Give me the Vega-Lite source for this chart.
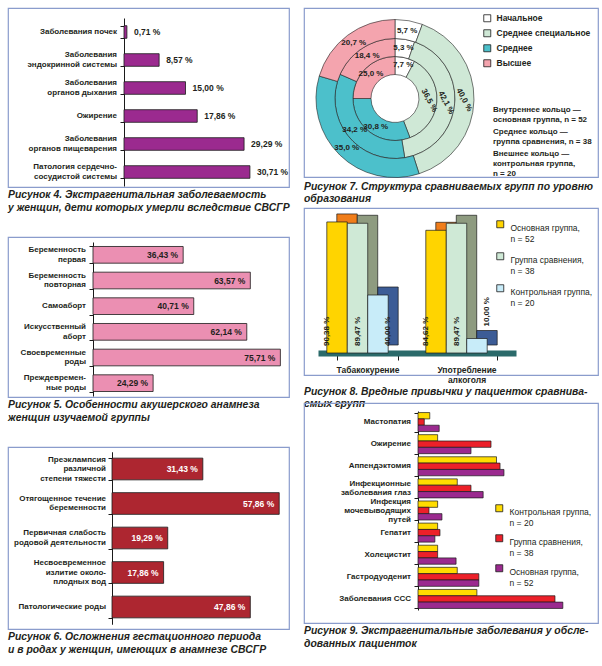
{
  "$schema": "https://vega.github.io/schema/vega-lite/v6.json",
  "background": "white",
  "padding": {"left": 7, "top": 7, "right": 5, "bottom": 4},
  "autosize": {"type": "pad"},
  "config": {
    "font": "Liberation Sans",
    "view": {"stroke": "#8a9ccc", "strokeWidth": 1.2},
    "title": {"font": "Liberation Sans", "fontSize": 10.4, "fontStyle": "italic", "fontWeight": "bold", "color": "#231f20", "orient": "bottom", "anchor": "start", "offset": 3, "lineHeight": 12.5},
    "axis": {"labelFont": "Liberation Sans", "labelColor": "#231f20", "labelFontWeight": "bold", "labelFontSize": 8.5, "domainColor": "#1a1a1a", "tickColor": "#1a1a1a"},
    "legend": {"labelFont": "Liberation Sans", "labelColor": "#231f20", "labelFontSize": 8.5, "labelLimit": 220},
    "text": {"font": "Liberation Sans", "color": "#231f20"}
  },
  "datasets": {
    "fig4": [
      {"cat": "Заболевания почек", "v": 0.71, "label": "0,71 %"},
      {"cat": "Заболевания|эндокринной системы", "v": 8.57, "label": "8,57 %"},
      {"cat": "Заболевания|органов дыхания", "v": 15.0, "label": "15,00 %"},
      {"cat": "Ожирение", "v": 17.86, "label": "17,86 %"},
      {"cat": "Заболевания|органов пищеварения", "v": 29.29, "label": "29,29 %"},
      {"cat": "Патология сердечно-|сосудистой системы", "v": 30.71, "label": "30,71 %"}
    ],
    "fig5": [
      {"cat": "Беременность|первая", "v": 36.43, "label": "36,43 %"},
      {"cat": "Беременность|повторная", "v": 63.57, "label": "63,57 %"},
      {"cat": "Самоаборт", "v": 40.71, "label": "40,71 %"},
      {"cat": "Искусственный|аборт", "v": 62.14, "label": "62,14 %"},
      {"cat": "Своевременные|роды", "v": 75.71, "label": "75,71 %"},
      {"cat": "Преждевремен-|ные роды", "v": 24.29, "label": "24,29 %"}
    ],
    "fig6": [
      {"cat": "Преэклампсия|различной|степени тяжести", "v": 31.43, "label": "31,43 %"},
      {"cat": "Отягощенное течение|беременности", "v": 57.86, "label": "57,86 %"},
      {"cat": "Первичная слабость|родовой деятельности", "v": 19.29, "label": "19,29 %"},
      {"cat": "Несвоевременное|излитие около-|плодных вод", "v": 17.86, "label": "17,86 %"},
      {"cat": "Патологические роды", "v": 47.86, "label": "47,86 %"}
    ],
    "fig7": [
      {"rn": 1, "ring": "Внутреннее кольцо —|основная группа, n = 52", "level": "Начальное", "ord": 1, "pct": 7.7, "label": "7,7 %"},
      {"rn": 1, "ring": "Внутреннее кольцо —|основная группа, n = 52", "level": "Среднее специальное", "ord": 2, "pct": 36.5, "label": "36,5 %"},
      {"rn": 1, "ring": "Внутреннее кольцо —|основная группа, n = 52", "level": "Среднее", "ord": 3, "pct": 30.8, "label": "30,8 %"},
      {"rn": 1, "ring": "Внутреннее кольцо —|основная группа, n = 52", "level": "Высшее", "ord": 4, "pct": 25.0, "label": "25,0 %"},
      {"rn": 2, "ring": "Среднее кольцо —|группа сравнения, n = 38", "level": "Начальное", "ord": 1, "pct": 5.3, "label": "5,3 %"},
      {"rn": 2, "ring": "Среднее кольцо —|группа сравнения, n = 38", "level": "Среднее специальное", "ord": 2, "pct": 42.1, "label": "42,1 %"},
      {"rn": 2, "ring": "Среднее кольцо —|группа сравнения, n = 38", "level": "Среднее", "ord": 3, "pct": 34.2, "label": "34,2 %"},
      {"rn": 2, "ring": "Среднее кольцо —|группа сравнения, n = 38", "level": "Высшее", "ord": 4, "pct": 18.4, "label": "18,4 %"},
      {"rn": 3, "ring": "Внешнее кольцо —|контрольная группа,|n = 20", "level": "Начальное", "ord": 1, "pct": 5.7, "label": "5,7 %"},
      {"rn": 3, "ring": "Внешнее кольцо —|контрольная группа,|n = 20", "level": "Среднее специальное", "ord": 2, "pct": 40.0, "label": "40,0 %"},
      {"rn": 3, "ring": "Внешнее кольцо —|контрольная группа,|n = 20", "level": "Среднее", "ord": 3, "pct": 35.0, "label": "35,0 %"},
      {"rn": 3, "ring": "Внешнее кольцо —|контрольная группа,|n = 20", "level": "Высшее", "ord": 4, "pct": 20.7, "label": "20,7 %"}
    ],
    "fig8": [
      {"habit": "Табакокурение", "group": "Основная группа,|n = 52", "v": 90.38, "label": "90,38 %"},
      {"habit": "Табакокурение", "group": "Группа сравнения,|n = 38", "v": 89.47, "label": "89,47 %"},
      {"habit": "Табакокурение", "group": "Контрольная группа,|n = 20", "v": 40.0, "label": "40,00 %"},
      {"habit": "Употребление|алкоголя", "group": "Основная группа,|n = 52", "v": 84.62, "label": "84,62 %"},
      {"habit": "Употребление|алкоголя", "group": "Группа сравнения,|n = 38", "v": 89.47, "label": "89,47 %"},
      {"habit": "Употребление|алкоголя", "group": "Контрольная группа,|n = 20", "v": 10.0, "label": "10,00 %"}
    ],
    "fig9": [
      {"dis": "Мастопатия", "group": "Контрольная группа,|n = 20", "v": 3.0},
      {"dis": "Мастопатия", "group": "Группа сравнения,|n = 38", "v": 1.6},
      {"dis": "Мастопатия", "group": "Основная группа,|n = 52", "v": 5.4},
      {"dis": "Ожирение", "group": "Контрольная группа,|n = 20", "v": 5.0},
      {"dis": "Ожирение", "group": "Группа сравнения,|n = 38", "v": 18.6},
      {"dis": "Ожирение", "group": "Основная группа,|n = 52", "v": 13.5},
      {"dis": "Аппендэктомия", "group": "Контрольная группа,|n = 20", "v": 20.0},
      {"dis": "Аппендэктомия", "group": "Группа сравнения,|n = 38", "v": 20.9},
      {"dis": "Аппендэктомия", "group": "Основная группа,|n = 52", "v": 21.9},
      {"dis": "Инфекционные|заболевания глаз", "group": "Контрольная группа,|n = 20", "v": 10.0},
      {"dis": "Инфекционные|заболевания глаз", "group": "Группа сравнения,|n = 38", "v": 13.5},
      {"dis": "Инфекционные|заболевания глаз", "group": "Основная группа,|n = 52", "v": 16.6},
      {"dis": "Инфекция|мочевыводящих|путей", "group": "Контрольная группа,|n = 20", "v": 5.0},
      {"dis": "Инфекция|мочевыводящих|путей", "group": "Группа сравнения,|n = 38", "v": 2.8},
      {"dis": "Инфекция|мочевыводящих|путей", "group": "Основная группа,|n = 52", "v": 6.1},
      {"dis": "Гепатит", "group": "Контрольная группа,|n = 20", "v": 5.0},
      {"dis": "Гепатит", "group": "Группа сравнения,|n = 38", "v": 5.6},
      {"dis": "Гепатит", "group": "Основная группа,|n = 52", "v": 4.3},
      {"dis": "Холецистит", "group": "Контрольная группа,|n = 20", "v": 5.0},
      {"dis": "Холецистит", "group": "Группа сравнения,|n = 38", "v": 5.0},
      {"dis": "Холецистит", "group": "Основная группа,|n = 52", "v": 9.7},
      {"dis": "Гастродуоденит", "group": "Контрольная группа,|n = 20", "v": 10.0},
      {"dis": "Гастродуоденит", "group": "Группа сравнения,|n = 38", "v": 15.5},
      {"dis": "Гастродуоденит", "group": "Основная группа,|n = 52", "v": 15.5},
      {"dis": "Заболевания ССС", "group": "Контрольная группа,|n = 20", "v": 15.0},
      {"dis": "Заболевания ССС", "group": "Группа сравнения,|n = 38", "v": 34.9},
      {"dis": "Заболевания ССС", "group": "Основная группа,|n = 52", "v": 36.9}
    ]
  },
  "spacing": 12,
  "resolve": {"scale": {"color": "independent", "fill": "independent", "stroke": "independent", "xOffset": "independent", "yOffset": "independent", "theta": "independent"}},
  "hconcat": [
    {
      "bounds": "flush",
      "spacing": 50,
      "resolve": {"scale": {"color": "independent", "fill": "independent", "stroke": "independent", "xOffset": "independent", "yOffset": "independent", "theta": "independent"}},
      "vconcat": [
        {
          "width": 281, "height": 179,
          "data": {"name": "fig4"},
          "title": {"text": ["Рисунок 4. Экстрагенитальная заболеваемость", "у женщин, дети которых умерли вследствие СВСГР"]},
          "encoding": {
            "y": {"field": "cat", "type": "nominal", "sort": null,
              "scale": {"range": [10, 178], "paddingInner": 0.55, "paddingOuter": 0.275},
              "axis": {"title": null, "offset": -116, "tickBand": "extent", "tickSize": 4, "labels": false}},
            "x": {"field": "v", "type": "quantitative", "scale": {"domain": [0, 40], "range": [116, 280], "nice": false}, "axis": null}
          },
          "layer": [
            {"mark": {"type": "bar", "fill": "#9b2a8f", "stroke": "#1a1a1a", "strokeWidth": 0.8}},
            {"mark": {"type": "text", "align": "left", "dx": 7, "fontWeight": "bold", "fontSize": 8.5}, "encoding": {"text": {"field": "label"}}},
            {"transform": [{"filter": "length(split(datum.cat, '|')) == 1"}],
             "mark": {"type": "text", "align": "right", "baseline": "middle", "dx": -7, "fontWeight": "bold", "fontSize": 8, "lineBreak": "|", "lineHeight": 9.5},
             "encoding": {"x": {"datum": 0, "type": "quantitative", "axis": null}, "text": {"field": "cat"}}},
            {"transform": [{"filter": "length(split(datum.cat, '|')) == 2"}],
             "mark": {"type": "text", "align": "right", "baseline": "middle", "dx": -7, "dy": -4.75, "fontWeight": "bold", "fontSize": 8, "lineBreak": "|", "lineHeight": 9.5},
             "encoding": {"x": {"datum": 0, "type": "quantitative", "axis": null}, "text": {"field": "cat"}}}
          ]
        },
        {
          "width": 281, "height": 160,
          "data": {"name": "fig5"},
          "title": {"text": ["Рисунок 5. Особенности акушерского анамнеза", "женщин изучаемой группы"]},
          "encoding": {
            "y": {"field": "cat", "type": "nominal", "sort": null,
              "scale": {"range": [5, 159], "paddingInner": 0.35, "paddingOuter": 0.175},
              "axis": {"title": null, "offset": -85, "tickBand": "extent", "tickSize": 4, "labels": false}},
            "x": {"field": "v", "type": "quantitative", "scale": {"domain": [0, 80], "range": [85, 283], "nice": false}, "axis": null}
          },
          "layer": [
            {"mark": {"type": "bar", "fill": "#eb8fb2", "stroke": "#1a1a1a", "strokeWidth": 0.8}},
            {"mark": {"type": "text", "align": "right", "dx": -5, "fontWeight": "bold", "fontSize": 8.5}, "encoding": {"text": {"field": "label"}}},
            {"transform": [{"filter": "length(split(datum.cat, '|')) == 1"}],
             "mark": {"type": "text", "align": "right", "baseline": "middle", "dx": -7, "fontWeight": "bold", "fontSize": 8, "lineBreak": "|", "lineHeight": 9.5},
             "encoding": {"x": {"datum": 0, "type": "quantitative", "axis": null}, "text": {"field": "cat"}}},
            {"transform": [{"filter": "length(split(datum.cat, '|')) == 2"}],
             "mark": {"type": "text", "align": "right", "baseline": "middle", "dx": -7, "dy": -4.75, "fontWeight": "bold", "fontSize": 8, "lineBreak": "|", "lineHeight": 9.5},
             "encoding": {"x": {"datum": 0, "type": "quantitative", "axis": null}, "text": {"field": "cat"}}}
          ]
        },
        {
          "width": 281, "height": 182,
          "data": {"name": "fig6"},
          "title": {"text": ["Рисунок 6. Осложнения гестационного периода", "и в родах у женщин, имеющих в анамнезе СВСГР"]},
          "encoding": {
            "y": {"field": "cat", "type": "nominal", "sort": null,
              "scale": {"range": [4.75, 177.25], "paddingInner": 0.37, "paddingOuter": 0.185},
              "axis": {"title": null, "offset": -104, "tickBand": "extent", "tickSize": 4, "labels": false}},
            "x": {"field": "v", "type": "quantitative", "scale": {"domain": [0, 60], "range": [104, 277.4], "nice": false}, "axis": null}
          },
          "layer": [
            {"mark": {"type": "bar", "fill": "#ad2630", "stroke": "#1a1a1a", "strokeWidth": 0.8}},
            {"mark": {"type": "text", "align": "right", "dx": -5, "fontWeight": "bold", "fontSize": 8.5, "color": "#ffffff"}, "encoding": {"text": {"field": "label"}}},
            {"transform": [{"filter": "length(split(datum.cat, '|')) == 1"}],
             "mark": {"type": "text", "align": "right", "baseline": "middle", "dx": -6, "fontWeight": "bold", "fontSize": 8, "lineBreak": "|", "lineHeight": 9.5},
             "encoding": {"x": {"datum": 0, "type": "quantitative", "axis": null}, "text": {"field": "cat"}}},
            {"transform": [{"filter": "length(split(datum.cat, '|')) == 2"}],
             "mark": {"type": "text", "align": "right", "baseline": "middle", "dx": -6, "dy": -4.75, "fontWeight": "bold", "fontSize": 8, "lineBreak": "|", "lineHeight": 9.5},
             "encoding": {"x": {"datum": 0, "type": "quantitative", "axis": null}, "text": {"field": "cat"}}},
            {"transform": [{"filter": "length(split(datum.cat, '|')) == 3"}],
             "mark": {"type": "text", "align": "right", "baseline": "middle", "dx": -6, "dy": -9.5, "fontWeight": "bold", "fontSize": 8, "lineBreak": "|", "lineHeight": 9.5},
             "encoding": {"x": {"datum": 0, "type": "quantitative", "axis": null}, "text": {"field": "cat"}}}
          ]
        }
      ]
    },
    {
      "spacing": 1,
      "resolve": {"scale": {"color": "independent", "fill": "independent", "stroke": "independent", "xOffset": "independent", "yOffset": "independent", "theta": "independent"}},
      "vconcat": [
        {
          "width": 294, "height": 169,
          "data": {"name": "fig7"},
          "title": {"text": ["Рисунок 7. Структура сравниваемых групп по уровню", "образования"]},
          "resolve": {"scale": {"theta": "independent"}},
          "encoding": {
            "x": {"datum": 0, "type": "quantitative", "scale": {"domain": [-91, 203], "nice": false, "zero": false}, "axis": null},
            "y": {"datum": 0, "type": "quantitative", "scale": {"domain": [-78.5, 90.5], "nice": false, "zero": false}, "axis": null},
            "theta": {"field": "pct", "type": "quantitative", "stack": true},
            "order": {"field": "ord", "type": "quantitative"}
          },
          "layer": [
            {
              "transform": [{"filter": "datum.rn == 1"}],
              "mark": {"type": "arc", "innerRadius": 24, "outerRadius": 42, "strokeWidth": 0.6},
              "encoding": {
                "color": {"field": "level", "type": "nominal", "sort": null,
                  "scale": {"domain": ["Начальное", "Среднее специальное", "Среднее", "Высшее"], "range": ["#ffffff", "#cfe8d6", "#4cc0cb", "#f4a4ae"]},
                  "legend": {"title": null, "orient": "none", "legendX": 179, "legendY": 6, "padding": 0, "symbolType": "square", "symbolSize": 49, "symbolStrokeColor": "#1a1a1a", "symbolStrokeWidth": 0.8, "labelFontWeight": "bold", "labelOffset": 5, "rowPadding": 4}},
                "stroke": {"field": "ring", "type": "nominal", "sort": null,
                  "scale": {"domain": ["Внутреннее кольцо —|основная группа, n = 52", "Среднее кольцо —|группа сравнения, n = 38", "Внешнее кольцо —|контрольная группа,|n = 20"], "range": ["#222222", "#222222", "#222222"]},
                  "legend": {"title": null, "orient": "none", "legendX": 181, "legendY": 94, "padding": 0, "symbolOpacity": 0, "symbolSize": 1, "symbolStrokeWidth": 0, "labelOffset": 0, "labelExpr": "split(datum.label, '|')", "labelBaseline": "top", "labelFontWeight": "bold", "labelFontSize": 8, "rowPadding": -4, "encode": {"labels": {"lineHeight": {"value": 9.3}}}}}
              }
            },
            {
              "transform": [{"filter": "datum.rn == 2"}],
              "mark": {"type": "arc", "innerRadius": 42, "outerRadius": 60, "strokeWidth": 0.6},
              "encoding": {
                "color": {"field": "level", "type": "nominal", "sort": null},
                "stroke": {"field": "ring", "type": "nominal", "sort": null}
              }
            },
            {
              "transform": [{"filter": "datum.rn == 3"}],
              "mark": {"type": "arc", "innerRadius": 60, "outerRadius": 79, "strokeWidth": 0.6},
              "encoding": {
                "color": {"field": "level", "type": "nominal", "sort": null},
                "stroke": {"field": "ring", "type": "nominal", "sort": null}
              }
            },
            {
              "transform": [{"filter": "datum.rn == 1"}],
              "mark": {"type": "text", "radius": 34, "fontWeight": "bold", "fontSize": 8},
              "encoding": {"text": {"field": "label"}, "angle": {"condition": {"test": "datum.level == 'Среднее специальное'", "value": 62}, "value": 0}}
            },
            {
              "transform": [{"filter": "datum.rn == 2"}],
              "mark": {"type": "text", "radius": 51, "fontWeight": "bold", "fontSize": 8},
              "encoding": {"text": {"field": "label"}, "angle": {"condition": {"test": "datum.level == 'Среднее специальное'", "value": 62}, "value": 0}}
            },
            {
              "transform": [{"filter": "datum.rn == 3"}],
              "mark": {"type": "text", "radius": 69, "fontWeight": "bold", "fontSize": 8},
              "encoding": {"text": {"field": "label"}, "angle": {"condition": {"test": "datum.level == 'Среднее специальное'", "value": 62}, "value": 0}}
            }
          ]
        },
        {
          "bounds": "flush",
          "spacing": 28,
          "resolve": {"scale": {"color": "independent", "fill": "independent", "stroke": "independent", "xOffset": "independent", "yOffset": "independent", "theta": "independent"}},
          "vconcat": [
            {
              "width": 294, "height": 167,
              "data": {"name": "fig8"},
              "title": {"text": ["Рисунок 8. Вредные привычки у пациенток сравнива-", "емых групп"]},
              "resolve": {"scale": {"x": "independent", "y": "independent", "xOffset": "independent"}},
              "layer": [
                {
                  "mark": {"type": "bar", "stroke": "#1a1a1a", "strokeWidth": 0.7},
                  "encoding": {
                    "x": {"field": "habit", "type": "nominal", "sort": null,
                      "scale": {"domain": ["Табакокурение", "Употребление|алкоголя"], "range": [14, 212], "paddingInner": 0.38, "paddingOuter": 0.19},
                      "axis": {"title": null, "orient": "bottom", "offset": -22, "domainColor": "#2b6a6a", "domainWidth": 6, "tickBand": "extent", "tickSize": 7, "labelAngle": 0, "labelPadding": 5, "labelLineHeight": 10, "labelExpr": "split(datum.label, '|')"}},
                    "xOffset": {"field": "group", "type": "nominal", "sort": null, "scale": {"domain": ["Основная группа,|n = 52", "Группа сравнения,|n = 38", "Контрольная группа,|n = 20"], "paddingInner": 0, "paddingOuter": 0}},
                    "y": {"field": "v", "type": "quantitative", "scale": {"domain": [0, 100], "range": [137, -8], "nice": false}, "axis": null},
                    "fill": {"field": "group", "type": "nominal", "sort": null, "scale": {"domain": ["Контрольная группа,|n = 20", "Группа сравнения,|n = 38", "Основная группа,|n = 52"], "range": ["#3c5c96", "#8e9b80", "#f07d1a"]}, "legend": null}
                  }
                },
                {
                  "mark": {"type": "bar", "stroke": "#1a1a1a", "strokeWidth": 0.7},
                  "encoding": {
                    "x": {"field": "habit", "type": "nominal", "sort": null,
                      "scale": {"domain": ["Табакокурение", "Употребление|алкоголя"], "range": [4, 202], "paddingInner": 0.38, "paddingOuter": 0.19}, "axis": null},
                    "xOffset": {"field": "group", "type": "nominal", "sort": null, "scale": {"domain": ["Основная группа,|n = 52", "Группа сравнения,|n = 38", "Контрольная группа,|n = 20"], "paddingInner": 0, "paddingOuter": 0}},
                    "y": {"field": "v", "type": "quantitative", "scale": {"domain": [0, 100], "range": [145, 0], "nice": false}, "axis": null},
                    "color": {"field": "group", "type": "nominal", "sort": null,
                      "scale": {"domain": ["Основная группа,|n = 52", "Группа сравнения,|n = 38", "Контрольная группа,|n = 20"], "range": ["#ffd400", "#cfe9d6", "#c8ecf9"]},
                      "legend": {"title": null, "orient": "none", "legendX": 192, "legendY": 12, "padding": 0, "symbolType": "square", "symbolSize": 49, "symbolStrokeColor": "#1a1a1a", "symbolStrokeWidth": 0.8, "labelOffset": 6, "labelBaseline": "top", "rowPadding": 7, "labelExpr": "split(datum.label, '|')",
                        "encode": {"labels": {"dy": {"value": -5}, "lineHeight": {"value": 10}}}}}
                  }
                },
                {
                  "transform": [{"filter": "datum.v > 20"}],
                  "mark": {"type": "text", "angle": 270, "align": "left", "baseline": "middle", "yOffset": -7, "fontWeight": "bold", "fontSize": 8},
                  "encoding": {
                    "x": {"field": "habit", "type": "nominal", "sort": null,
                      "scale": {"domain": ["Табакокурение", "Употребление|алкоголя"], "range": [4, 202], "paddingInner": 0.38, "paddingOuter": 0.19}, "axis": null},
                    "xOffset": {"field": "group", "type": "nominal", "sort": null, "scale": {"domain": ["Основная группа,|n = 52", "Группа сравнения,|n = 38", "Контрольная группа,|n = 20"], "paddingInner": 0, "paddingOuter": 0}},
                    "y": {"datum": 0, "type": "quantitative", "scale": {"domain": [0, 100], "range": [145, 0], "nice": false}, "axis": null},
                    "text": {"field": "label"}
                  }
                },
                {
                  "transform": [{"filter": "datum.v <= 20"}],
                  "mark": {"type": "text", "angle": 270, "align": "left", "baseline": "middle", "yOffset": -12, "fontWeight": "bold", "fontSize": 8},
                  "encoding": {
                    "x": {"field": "habit", "type": "nominal", "sort": null,
                      "scale": {"domain": ["Табакокурение", "Употребление|алкоголя"], "range": [4, 202], "paddingInner": 0.38, "paddingOuter": 0.19}, "axis": null},
                    "xOffset": {"field": "group", "type": "nominal", "sort": null, "scale": {"domain": ["Основная группа,|n = 52", "Группа сравнения,|n = 38", "Контрольная группа,|n = 20"], "paddingInner": 0, "paddingOuter": 0}},
                    "y": {"field": "v", "type": "quantitative", "scale": {"domain": [0, 100], "range": [145, 0], "nice": false}, "axis": null},
                    "text": {"field": "label"}
                  }
                }
              ]
            },
            {
              "width": 294, "height": 220,
              "data": {"name": "fig9"},
              "title": {"text": ["Рисунок 9. Экстрагенитальные заболевания у обсле-", "дованных пациенток"]},
              "encoding": {
                "y": {"field": "dis", "type": "nominal", "sort": null,
                  "scale": {"range": [8, 207], "paddingInner": 0.14, "paddingOuter": 0.07},
                  "axis": {"title": null, "offset": -114, "tickBand": "extent", "tickSize": 4, "labels": false}},
                "x": {"field": "v", "type": "quantitative",
                  "scale": {"domain": [0, 40], "range": [114, 271], "nice": false},
                  "axis": {"title": null, "orient": "bottom", "offset": -13, "values": [0, 5, 10, 15, 20, 25, 30, 35, 40], "labelExpr": "datum.value + ' %'", "labelFlush": false, "domain": false, "ticks": false, "grid": true, "gridColor": "#9a9a9a", "gridWidth": 1, "labelFontSize": 8, "labelPadding": 3}}
              },
              "layer": [
                {
                  "mark": {"type": "bar", "stroke": "#1a1a1a", "strokeWidth": 0.7},
                  "encoding": {
                    "yOffset": {"field": "group", "type": "nominal", "sort": null, "scale": {"domain": ["Контрольная группа,|n = 20", "Группа сравнения,|n = 38", "Основная группа,|n = 52"], "paddingInner": 0, "paddingOuter": 0}},
                    "color": {"field": "group", "type": "nominal", "sort": null,
                      "scale": {"domain": ["Контрольная группа,|n = 20", "Группа сравнения,|n = 38", "Основная группа,|n = 52"], "range": ["#ffdc00", "#ec2029", "#9b2a8f"]},
                      "legend": {"title": null, "orient": "none", "legendX": 191, "legendY": 101, "padding": 0, "symbolType": "square", "symbolSize": 49, "symbolStrokeColor": "#1a1a1a", "symbolStrokeWidth": 0.8, "labelOffset": 6, "labelBaseline": "top", "rowPadding": 5, "labelExpr": "split(datum.label, '|')",
                        "encode": {"labels": {"dy": {"value": -5}, "lineHeight": {"value": 10}}}}}
                  }
                },
                {"transform": [{"filter": "datum.group == 'Контрольная группа,|n = 20' && length(split(datum.dis, '|')) == 1"}],
                 "mark": {"type": "text", "align": "right", "baseline": "middle", "dx": -7, "fontWeight": "bold", "fontSize": 8, "lineBreak": "|", "lineHeight": 9},
                 "encoding": {"x": {"datum": 0, "type": "quantitative", "axis": null}, "text": {"field": "dis"}}},
                {"transform": [{"filter": "datum.group == 'Контрольная группа,|n = 20' && length(split(datum.dis, '|')) == 2"}],
                 "mark": {"type": "text", "align": "right", "baseline": "middle", "dx": -7, "dy": -4.5, "fontWeight": "bold", "fontSize": 8, "lineBreak": "|", "lineHeight": 9},
                 "encoding": {"x": {"datum": 0, "type": "quantitative", "axis": null}, "text": {"field": "dis"}}},
                {"transform": [{"filter": "datum.group == 'Контрольная группа,|n = 20' && length(split(datum.dis, '|')) == 3"}],
                 "mark": {"type": "text", "align": "right", "baseline": "middle", "dx": -7, "dy": -9, "fontWeight": "bold", "fontSize": 8, "lineBreak": "|", "lineHeight": 9},
                 "encoding": {"x": {"datum": 0, "type": "quantitative", "axis": null}, "text": {"field": "dis"}}}
              ]
            }
          ]
        }
      ]
    }
  ]
}
